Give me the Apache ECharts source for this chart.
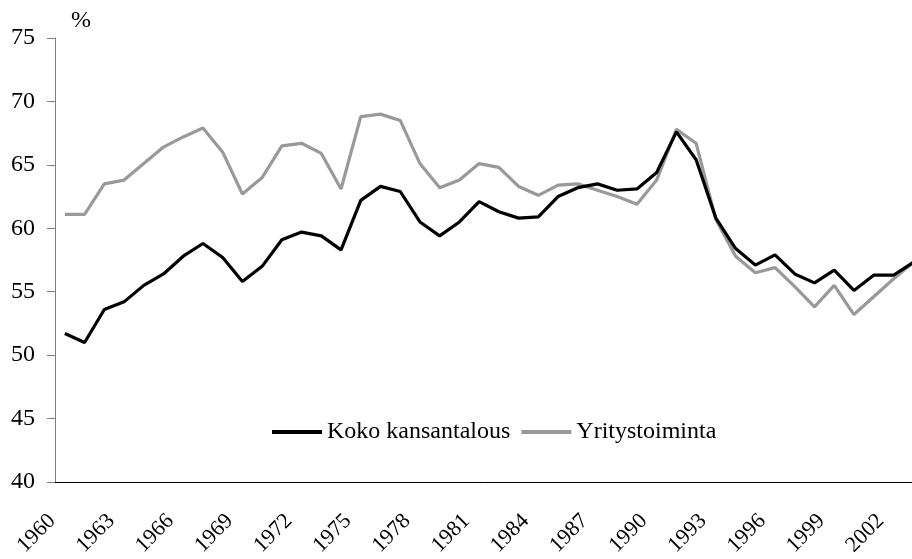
<!DOCTYPE html>
<html>
<head>
<meta charset="utf-8">
<script src="https://cdn.jsdelivr.net/npm/echarts@6/dist/echarts.min.js"></script>
<style>html,body{margin:0;padding:0;background:#fff}#c{width:912px;height:559px}</style>
</head>
<body>
<div id="c"></div>
<script>
const years = [];
for (let y = 1960; y <= 2003; y++) years.push(String(y));
const kokoKansantalous = [51.7,51.0,53.6,54.2,55.5,56.4,57.8,58.8,57.7,55.8,57.0,59.1,59.7,59.4,58.3,62.2,63.3,62.9,60.5,59.4,60.5,62.1,61.3,60.8,60.9,62.5,63.2,63.5,63.0,63.1,64.4,67.6,65.4,60.8,58.4,57.1,57.9,56.4,55.7,56.7,55.1,56.3,56.3,57.3];
const yritystoiminta = [61.1,61.1,63.5,63.8,65.1,66.4,67.2,67.9,66.0,62.7,64.0,66.5,66.7,65.9,63.1,68.8,69.0,68.5,65.1,63.2,63.8,65.1,64.8,63.3,62.6,63.4,63.5,63.0,62.5,61.9,63.8,67.8,66.7,60.7,57.8,56.5,56.9,55.4,53.8,55.5,53.2,54.6,56.0,57.3];
const seriesNames = ['Koko kansantalous','Yritystoiminta'];
const font = 'Liberation Serif, Times New Roman, serif';
const chart = echarts.init(document.getElementById('c'));
chart.setOption({
  animation: false,
  backgroundColor: '#fff',
  textStyle: {fontFamily: font},
  title: {text: '%', left: 66, top: 4, textStyle: {fontFamily: font, fontSize: 24, fontWeight: 'normal', color: '#000'}},
  grid: {left: 55, top: 38, width: 868, height: 444, containLabel: false, outerBoundsMode: 'none'},
  legend: {
    left: 272, top: 420, padding: 0, itemWidth: 50, itemHeight: 4, itemGap: 11, icon: 'rect',
    data: seriesNames,
    textStyle: {fontFamily: font, fontSize: 24, color: '#000'}
  },
  xAxis: {
    type: 'category', data: years, boundaryGap: true,
    axisLine: {lineStyle: {color: '#000', width: 1}},
    axisTick: {interval: 2, length: 7, lineStyle: {color: '#000'}},
    axisLabel: {interval: 2, rotate: 45, margin: 23, padding: [0, 18, 0, 0], fontSize: 22, color: '#000', fontFamily: font}
  },
  yAxis: {
    type: 'value', min: 40, max: 75, interval: 5,
    splitLine: {show: false},
    axisLine: {show: true, lineStyle: {color: '#808080', width: 1}},
    axisTick: {show: true, length: 8, lineStyle: {color: '#808080'}},
    axisLabel: {margin: 20, fontSize: 24, color: '#000', fontFamily: font}
  },
  series: [
    {name: seriesNames[0], type: 'line', data: kokoKansantalous, symbol: 'none', z: 3,
     lineStyle: {color: '#000', width: 3.2}, itemStyle: {color: '#000'}},
    {name: seriesNames[1], type: 'line', data: yritystoiminta, symbol: 'none', z: 2,
     lineStyle: {color: '#999', width: 3.2}, itemStyle: {color: '#999'}}
  ]
});
</script>
</body>
</html>
